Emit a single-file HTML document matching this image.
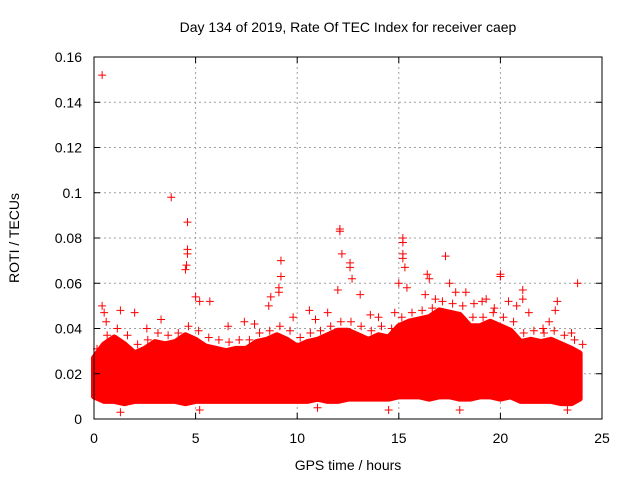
<!DOCTYPE html>
<html><head><meta charset="utf-8"><style>
body{margin:0;background:#fff}
svg text{font-family:"Liberation Sans",sans-serif;font-size:14px;fill:#000}
</style></head><body>
<svg id="chart" width="640" height="480" viewBox="0 0 640 480">
<text x="348" y="32" text-anchor="middle">Day 134 of 2019, Rate Of TEC Index for receiver caep</text>
<text x="348" y="470" text-anchor="middle">GPS time / hours</text>
<text x="0" y="0" text-anchor="middle" transform="translate(19,238) rotate(-90)">ROTI / TECUs</text>
<g id="grid"></g>
<g id="marks"></g>
<rect x="94" y="57" width="508" height="362" fill="none" stroke="#000" stroke-width="1"/>
<g id="ticks"></g>
</svg>
<script>
const xTicks=[0,5,10,15,20,25];
const yTicks=[0,0.02,0.04,0.06,0.08,0.1,0.12,0.14,0.16];
const yTickLabels=["0","0.02","0.04","0.06","0.08","0.1","0.12","0.14","0.16"];
const binHours=[0,0.5,1,1.5,2,2.5,3,3.5,4,4.5,5,5.5,6,6.5,7,7.5,8,8.5,9,9.5,10,10.5,11,11.5,12,12.5,13,13.5,14,14.5,15,15.5,16,16.5,17,17.5,18,18.5,19,19.5,20,20.5,21,21.5,22,22.5,23,23.5,23.9];
const bandHigh=[0.027,0.033,0.036,0.033,0.029,0.031,0.034,0.033,0.034,0.037,0.035,0.032,0.031,0.030,0.031,0.031,0.034,0.035,0.037,0.035,0.032,0.034,0.035,0.037,0.039,0.039,0.037,0.035,0.037,0.036,0.041,0.043,0.044,0.045,0.048,0.047,0.046,0.041,0.041,0.043,0.041,0.039,0.034,0.035,0.034,0.035,0.033,0.031,0.029];
const bandLow=[0.010,0.008,0.008,0.007,0.008,0.008,0.008,0.008,0.008,0.007,0.008,0.008,0.008,0.008,0.008,0.008,0.008,0.008,0.008,0.008,0.008,0.008,0.009,0.008,0.008,0.009,0.009,0.009,0.009,0.009,0.010,0.010,0.010,0.009,0.010,0.010,0.009,0.009,0.010,0.010,0.009,0.010,0.008,0.008,0.008,0.008,0.007,0.007,0.009];
const outHours=[0.4,3.8,4.6,4.6,4.6,4.55,4.5,9.2,9.2,9.1,9.1,12.1,12.1,12.2,12.6,12.6,12.7,15.2,15.2,15.2,15.2,15.3,16.4,16.5,17.3,17.5,20.0,20.0,21.1,21.1,23.8,22.8,22.7,0.4,0.5,1.3,2.0,5.0,5.2,5.7,7.4,8.7,8.6,10.6,11.5,12.0,13.1,14.0,15.0,15.4,16.3,17.8,18.3,19.1,19.3,20.4,21.4,22.1,1.3,5.2,11.0,14.5,18.0,23.3,0.6,2.6,3.3,6.6,7.9,9.8,10.9,13.6,14.8,16.8,18.7,19.7,20.8,22.4,23.5];
const outValues=[0.152,0.098,0.087,0.075,0.073,0.068,0.066,0.070,0.063,0.058,0.056,0.084,0.083,0.073,0.069,0.067,0.062,0.080,0.078,0.073,0.071,0.067,0.064,0.062,0.072,0.060,0.063,0.064,0.057,0.053,0.060,0.052,0.048,0.050,0.047,0.048,0.047,0.054,0.052,0.052,0.043,0.054,0.050,0.048,0.047,0.057,0.055,0.045,0.060,0.058,0.055,0.056,0.056,0.052,0.053,0.052,0.047,0.040,0.003,0.004,0.005,0.004,0.004,0.004,0.043,0.040,0.044,0.041,0.042,0.045,0.044,0.046,0.047,0.053,0.051,0.049,0.050,0.043,0.038];
const X0=94,X1=602,Y0=419,Y1=57;
const xs=v=>X0+(v-0)/(25-0)*(X1-X0);
const ys=v=>Y0-(v-0)/(0.16-0)*(Y0-Y1);
const NS="http://www.w3.org/2000/svg";
const grid=document.getElementById('grid'),ticks=document.getElementById('ticks'),marks=document.getElementById('marks');
function mk(tag,attrs,parent){const e=document.createElementNS(NS,tag);for(const k in attrs)e.setAttribute(k,attrs[k]);parent.appendChild(e);return e;}
xTicks.forEach(t=>{const x=xs(t);
 if(t>0&&t<25){const g=mk('line',{x1:x,x2:x,y1:Y1,y2:Y0,stroke:'#a0a0a0','stroke-dasharray':'2,3'},grid);
 
 }
 mk('line',{x1:x,x2:x,y1:Y0,y2:Y0-6,stroke:'#000'},ticks);mk('line',{x1:x,x2:x,y1:Y1,y2:Y1+6,stroke:'#000'},ticks);
 const l=mk('text',{x:x,y:Y0+24,'text-anchor':'middle'},ticks);l.textContent=t;
 
 });
yTicks.forEach((t,i)=>{const y=ys(t);
 if(i>0&&i<yTicks.length-1){const g=mk('line',{x1:X0,x2:X1,y1:y,y2:y,stroke:'#a0a0a0','stroke-dasharray':'2,3'},grid);
 
 }
 mk('line',{x1:X0,x2:X0+6,y1:y,y2:y,stroke:'#000'},ticks);mk('line',{x1:X1,x2:X1-6,y1:y,y2:y,stroke:'#000'},ticks);
 const l=mk('text',{x:X0-12,y:y+5,'text-anchor':'end'},ticks);l.textContent=yTickLabels[i];
 
 });
let pts=binHours.map((h,i)=>xs(h)+','+ys(bandHigh[i]));
for(let i=binHours.length-1;i>=0;i--)pts.push(xs(binHours[i])+','+ys(bandLow[i]));
const band=mk('polygon',{points:pts.join(' '),fill:'#ff0000',stroke:'#ff0000','stroke-width':'6','stroke-linejoin':'round'},marks);


function cross(x,y,name){const p=mk('path',{d:`M${x-4},${y}h8M${x},${y-4}v8`,stroke:'#ff0000','stroke-width':'1'},marks);
 
 }
binHours.forEach((h,i)=>{cross(xs(h)+3,ys(bandHigh[i]+0.004),'roti-point');});
outHours.forEach((h,i)=>cross(xs(h),ys(outValues[i]),'roti-outlier'));
</script>
</body></html>
